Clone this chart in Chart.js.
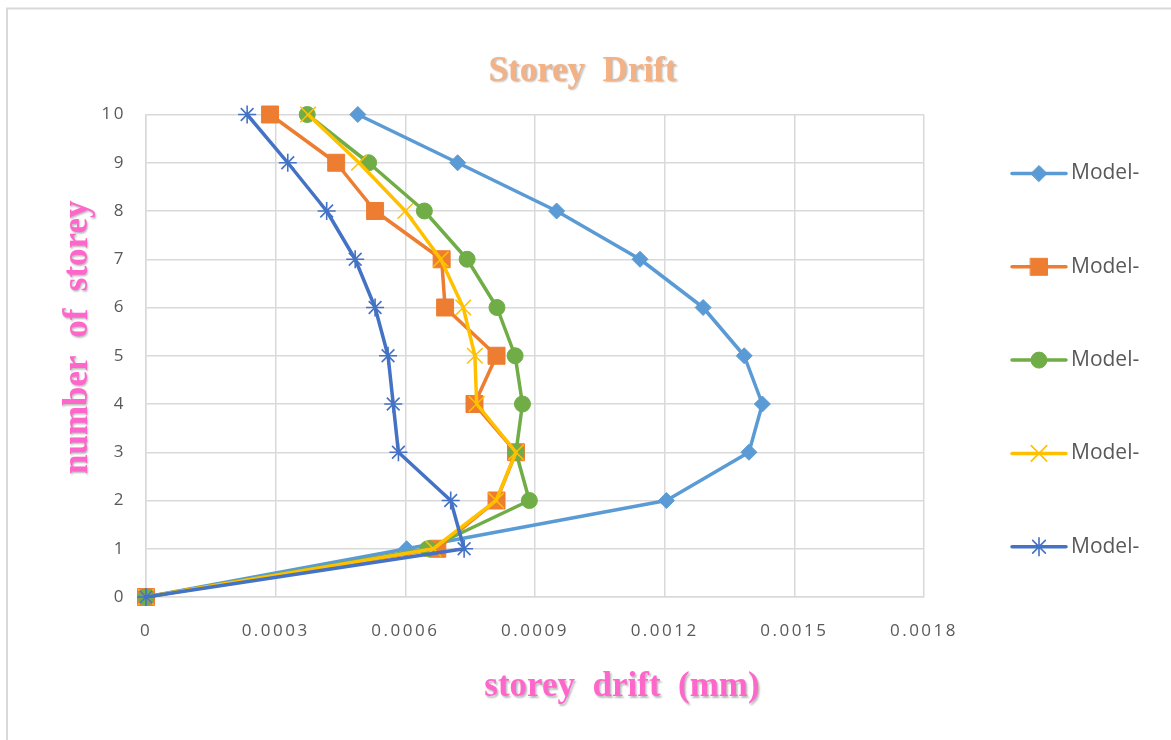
<!DOCTYPE html>
<html>
<head>
<meta charset="utf-8">
<script src="https://cdn.jsdelivr.net/npm/chart.js@4/dist/chart.umd.min.js"></script>
<style>
  html, body { margin: 0; padding: 0; background: #ffffff; }
  #wrap { width: 1171px; height: 740px; position: relative; }
</style>
</head>
<body>
<div id="wrap"><canvas id="c" width="1171" height="740"></canvas></div>
<script>
// Storey numbers (y) and drift per model (x)
const storeys = [0, 1, 2, 3, 4, 5, 6, 7, 8, 9, 10];
const model1 = [0, 0.000603, 0.001204, 0.001395, 0.001426, 0.001384, 0.001289, 0.001143, 0.000950, 0.000721, 0.000490];
const model2 = [0, 0.000674, 0.000811, 0.000856, 0.000760, 0.000811, 0.000692, 0.000684, 0.000530, 0.000440, 0.000287];
const model3 = [0, 0.000652, 0.000887, 0.000856, 0.000871, 0.000854, 0.000812, 0.000743, 0.000644, 0.000515, 0.000373];
const model4 = [0, 0.000665, 0.000810, 0.000856, 0.000765, 0.000761, 0.000734, 0.000682, 0.000600, 0.000493, 0.000375];
const model5 = [0, 0.000736, 0.000705, 0.000584, 0.000572, 0.000560, 0.000530, 0.000484, 0.000418, 0.000328, 0.000234];
const seriesNames = ['Model-', 'Model-', 'Model-', 'Model-', 'Model-'];
const xTickLabels = ['0', '0.0003', '0.0006', '0.0009', '0.0012', '0.0015', '0.0018'];
const yTickLabels = ['0', '1', '2', '3', '4', '5', '6', '7', '8', '9', '10'];

const seriesValues = [model1, model2, model3, model4, model5];
const styles = [
  { color: '#5B9BD5', pointStyle: 'rectRot', radius: 8, pbw: 1 },
  { color: '#ED7D31', pointStyle: 'rect', radius: 12, pbw: 1 },
  { color: '#70AD47', pointStyle: 'circle', radius: 8, pbw: 1 },
  { color: '#FFC000', pointStyle: 'crossRot', radius: 11, pbw: 1.6 },
  { color: '#4472C4', pointStyle: 'star', radius: 9, pbw: 1.6 }
];

const datasets = seriesValues.map((vals, i) => ({
  label: seriesNames[i],
  data: vals.map((v, k) => ({ x: v, y: storeys[k] })),
  showLine: true,
  borderColor: styles[i].color,
  backgroundColor: styles[i].color,
  borderWidth: 3.5,
  borderCapStyle: 'round',
  borderJoinStyle: 'round',
  tension: 0,
  pointStyle: styles[i].pointStyle,
  pointRadius: styles[i].radius,
  pointHoverRadius: styles[i].radius,
  pointBorderWidth: styles[i].pbw,
  pointBorderColor: styles[i].color,
  pointBackgroundColor: styles[i].color,
  clip: false,
  order: seriesValues.length - i
}));

const TITLE_FONT = 'Liberation Serif';
const TICK_FONT = 'Open Sans';

// Outer frame lines along the left and top edge
const framePlugin = {
  id: 'frame',
  beforeDraw(chart) {
    const ctx = chart.ctx;
    ctx.save();
    ctx.fillStyle = '#ffffff';
    ctx.fillRect(0, 0, chart.width, chart.height);
    ctx.strokeStyle = '#D9D9D9';
    ctx.lineWidth = 2;
    ctx.beginPath();
    ctx.moveTo(7, chart.height);
    ctx.lineTo(7, 8.5);
    ctx.lineTo(chart.width, 8.5);
    ctx.stroke();
    ctx.restore();
  }
};

// Shadowed titles and spaced tick labels
function wrapDraw(obj, fnName, setup) {
  if (!obj || obj['_wrapped_' + fnName]) return;
  const orig = obj[fnName].bind(obj);
  obj[fnName] = function (...args) {
    const ctx = this.ctx;
    ctx.save();
    setup(ctx);
    orig(...args);
    ctx.restore();
  };
  obj['_wrapped_' + fnName] = true;
}
const shadow = ctx => {
  ctx.shadowColor = 'rgba(0,0,0,0.28)';
  ctx.shadowOffsetX = 1.5;
  ctx.shadowOffsetY = 1.5;
  ctx.shadowBlur = 2;
};
const textPlugin = {
  id: 'textStyle',
  beforeDraw(chart) {
    // the title box stops at the legend column, so centre it on the full width
    const tb = chart.titleBlock;
    const dx = tb ? chart.width / 2 - (tb.left + tb.right) / 2 : 0;
    wrapDraw(tb, 'draw', ctx => { shadow(ctx); ctx.translate(dx - 3, 3); });
    const xs = chart.scales.x, ys = chart.scales.y;
    wrapDraw(xs, 'drawTitle', ctx => { shadow(ctx); ctx.translate(87, 0); });
    wrapDraw(ys, 'drawTitle', ctx => { shadow(ctx); ctx.translate(0, -18.5); });
    wrapDraw(xs, 'drawLabels', ctx => { ctx.letterSpacing = '2.5px'; });
    wrapDraw(ys, 'drawLabels', ctx => { ctx.letterSpacing = '2.5px'; });
  }
};

// Legend column on the right: line with marker, then the name
const legendPlugin = {
  id: 'sideLegend',
  afterDraw(chart) {
    const ctx = chart.ctx;
    const x0 = 1012, x1 = 1066, xm = 1039, xt = 1071;
    ctx.save();
    chart.data.datasets.forEach((ds, i) => {
      const y = 173.5 + i * 93.3;
      ctx.strokeStyle = ds.borderColor;
      ctx.lineWidth = 3.5;
      ctx.lineCap = 'round';
      ctx.beginPath();
      ctx.moveTo(x0, y);
      ctx.lineTo(x1, y);
      ctx.stroke();
      ctx.fillStyle = ds.pointBackgroundColor;
      ctx.strokeStyle = ds.pointBorderColor;
      ctx.lineWidth = ds.pointBorderWidth;
      Chart.helpers.drawPoint(ctx, {
        pointStyle: ds.pointStyle,
        radius: ds.pointRadius,
        borderWidth: ds.pointBorderWidth,
        rotation: 0
      }, xm, y);
      ctx.fillStyle = '#595959';
      ctx.font = '21px "' + TICK_FONT + '"';
      ctx.textBaseline = 'middle';
      ctx.textAlign = 'left';
      ctx.fillText(ds.label, xt, y);
    });
    ctx.restore();
  }
};

new Chart(document.getElementById('c'), {
  type: 'scatter',
  data: { datasets },
  plugins: [framePlugin, textPlugin, legendPlugin],
  options: {
    responsive: false,
    animation: false,
    events: [],
    layout: { padding: { left: 0, top: 0, right: 247, bottom: 0 } },
    plugins: {
      legend: { display: false },
      tooltip: { enabled: false },
      title: {
        display: true,
        text: 'Storey  Drift',
        color: '#F4B183',
        font: { family: TITLE_FONT, size: 35, weight: 'bold', lineHeight: 1.2 },
        padding: { top: 47.8, bottom: 24.7 }
      }
    },
    scales: {
      x: {
        type: 'linear',
        min: 0,
        max: 0.0018,
        afterFit: s => { s.height = 143; },
        afterBuildTicks: s => {
          s.ticks = xTickLabels.map((t, i) => ({ value: i * 0.0003 }));
        },
        ticks: {
          color: '#595959',
          padding: 24,
          font: { family: TICK_FONT, size: 17 },
          maxRotation: 0,
          autoSkip: false,
          callback: (v, i) => xTickLabels[i]
        },
        grid: { color: '#D9D9D9', lineWidth: 1.5, drawTicks: false },
        border: { color: '#D9D9D9', width: 1.5 },
        title: {
          display: true,
          text: 'storey  drift  (mm)',
          color: '#FF66CC',
          font: { family: TITLE_FONT, size: 35, weight: 'bold', lineHeight: 1.2 },
          padding: { top: 0, bottom: 32 }
        }
      },
      y: {
        type: 'linear',
        min: 0,
        max: 10,
        afterFit: s => { s.width = 146; },
        afterBuildTicks: s => {
          s.ticks = yTickLabels.map((t, i) => ({ value: storeys[i] }));
        },
        ticks: {
          color: '#595959',
          padding: 20,
          font: { family: TICK_FONT, size: 17 },
          autoSkip: false,
          callback: (v, i) => yTickLabels[i]
        },
        grid: { color: '#D9D9D9', lineWidth: 1.5, drawTicks: false },
        border: { color: '#D9D9D9', width: 1.5 },
        title: {
          display: true,
          text: 'number  of  storey',
          color: '#FF66CC',
          font: { family: TITLE_FONT, size: 35, weight: 'bold', lineHeight: 1.2 },
          padding: { top: 56.7, bottom: 0 }
        }
      }
    }
  }
});
</script>
</body>
</html>
